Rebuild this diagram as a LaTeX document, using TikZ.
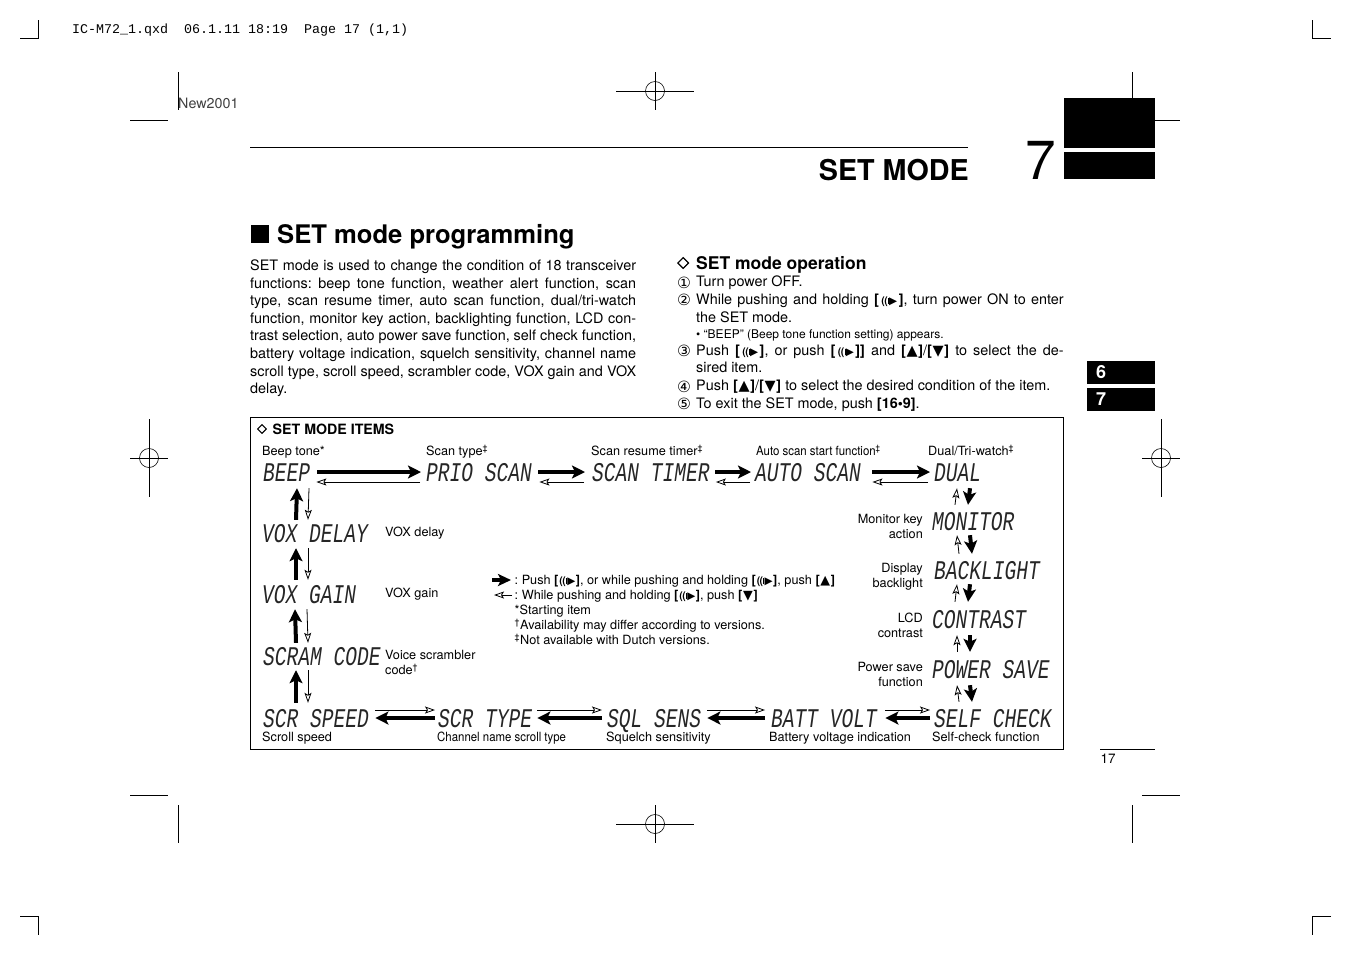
\documentclass[tikz,border=0pt]{standalone}
\usepackage{fontspec}
\usetikzlibrary{arrows.meta}
\setmainfont{TeX Gyre Heros}
\newfontfamily\lcdf[UprightFont=* Italic,FakeStretch=0.725]{Liberation Mono}
\newfontfamily\monof{Liberation Mono}
\newfontfamily\djv{DejaVu Sans}
\newfontfamily\djb[FakeBold=1.5]{DejaVu Sans}
\newfontfamily\narf[FakeStretch=0.90]{TeX Gyre Heros}
\newcommand\icn{{\fontsize{10.5}{10.5}\selectfont\textbf{(}\kern-.6pt\textbf{(}\kern.2pt\raisebox{.2pt}{\rule{1pt}{6pt}}\kern.2pt{\djv ▶}}}
\newcommand\spk{\textbf{[}\kern2.5pt\icn\kern1.5pt\textbf{]}}
\newcommand\spkn{\textbf{[}\kern1pt\icn\kern.5pt\textbf{]}}
\newcommand\ups{\textbf{[}\kern.7pt{\djv ▲}\kern.7pt\textbf{]}}
\newcommand\dns{\textbf{[}\kern.7pt{\djv ▼}\kern.7pt\textbf{]}}
\newcommand\jl[2]{\makebox[#1pt][s]{#2}}
\newcommand\cn[1]{{\djv\fontsize{15.5}{15.5}\selectfont #1}}
\newcommand\supm[1]{\smash{\textsuperscript{#1}}}
\tikzset{
  x=1pt,y=-1pt,
  crop/.style={line width=.6pt,black},
  lcd/.style={anchor=west,inner sep=0pt,text height=18pt,text depth=0pt,font=\lcdf\fontsize{27}{27}\selectfont,text=black!85},
  lab/.style={anchor=west,inner sep=0pt,text height=11pt,text depth=2pt,font=\fontsize{12.7}{15}\selectfont},
  labm/.style={anchor=west,inner sep=0pt,font=\fontsize{12.7}{15}\selectfont,align=left},
  labr/.style={anchor=east,inner sep=0pt,font=\fontsize{12.7}{15}\selectfont,align=right},
  body/.style={anchor=north west,inner sep=0pt,font=\fontsize{14.4}{17.6}\selectfont,align=left},
  stepline/.style={anchor=west,inner sep=0pt,text height=10.5pt,text depth=3pt,font=\fontsize{14.4}{17.6}\selectfont},
  fat/.style={-{Stealth[length=13pt,width=13pt,inset=3pt]},line width=4pt,black},
  thin/.style={-{Stealth[open,length=10pt,width=7pt,inset=2pt,fill=white]},line width=.8pt,black},
}
\begin{document}
\frenchspacing
\begin{tikzpicture}
\useasboundingbox (0,0) rectangle (1351,954);
% crop marks
\draw[crop] (38,20)--(38,38)--(20,38);
\draw[crop] (1312,20)--(1312,38)--(1331,38);
\draw[crop] (20,916)--(38,916)--(38,935);
\draw[crop] (1331,916)--(1312,916)--(1312,935);
\draw[crop] (178,72)--(178,110) (130,120)--(168,120);
\draw[crop] (1132,72)--(1132,98) (1155,120)--(1180,120);
\draw[crop] (130,795)--(168,795) (178,805)--(178,843);
\draw[crop] (1142,795)--(1180,795) (1132,805)--(1132,843);
\foreach \cx/\cy in {655/91,655/824}{
  \draw[crop] (\cx-39,\cy)--(\cx+39,\cy) (\cx,\cy-19)--(\cx,\cy+19);
  \draw[crop] (\cx,\cy) circle[radius=9.5pt];
}
\foreach \cx/\cy in {149/458,1161/458}{
  \draw[crop] (\cx-19,\cy)--(\cx+19,\cy) (\cx,\cy-39)--(\cx,\cy+39);
  \draw[crop] (\cx,\cy) circle[radius=9.5pt];
}
% header
\node[anchor=west,inner sep=0pt,font=\monof\fontsize{11}{11}\selectfont,scale=1.212] (slug) at (72,30) {IC-M72\_1.qxd\ \ 06.1.11 18:19\ \ Page 17 (1,1)};
\node[anchor=west,inner sep=0pt,font=\fontsize{14.3}{14}\selectfont,text=black!75] (new) at (178,103) {New2001};
\draw[line width=.8pt] (250,147.7)--(968,147.7);
\node[anchor=east,inner sep=0pt,font=\bfseries\fontsize{28.7}{30}\selectfont] (title) at (969,170) {SET MODE};
\node[anchor=center,inner sep=0pt,font=\fontsize{55}{55}\selectfont] (chap) at (1041,160) {7};
\fill (1064,98) rectangle (1155,148);
\fill (1064,152) rectangle (1155,179);
\fill (1087,361) rectangle (1155,384);
\fill (1087,388) rectangle (1155,411);
\node[inner sep=0pt,text=white,font=\bfseries\fontsize{18}{18}\selectfont] (t6) at (1101,372.5) {6};
\node[inner sep=0pt,text=white,font=\bfseries\fontsize{18}{18}\selectfont] (t7) at (1101,399.5) {7};
\draw[line width=.6pt] (1100,749)--(1155,749);
\node[inner sep=0pt,font=\fontsize{13.5}{14}\selectfont] (pg) at (1108,759) {17};
% headings
\fill (251,225) rectangle (269,243);
\node[anchor=west,inner sep=0pt,font=\bfseries\fontsize{25.6}{26}\selectfont] (h1) at (277,237) {SET mode programming};
\node[body] (para) at (250,259.5) {%
\jl{386}{SET mode is used to change the condition of 18 transceiver}\\
\jl{386}{functions: beep tone function, weather alert function, scan}\\
\jl{386}{type, scan resume timer, auto scan function, dual/tri-watch}\\
\jl{386}{function, monitor key action, backlighting function, LCD con-}\\
\jl{386}{trast selection, auto power save function, self check function,}\\
\jl{386}{battery voltage indication, squelch sensitivity, channel name}\\
\jl{386}{scroll type, scroll speed, scrambler code, VOX gain and VOX}\\
delay.};
\node[anchor=west,inner sep=0pt,font=\djb\fontsize{15.5}{16}\selectfont] (dia1) at (677,263) {◇};
\node[anchor=west,inner sep=0pt,font=\bfseries\fontsize{17.5}{18}\selectfont] (h2) at (696,265) {SET mode operation};
\foreach \t/\yy/\c in {①/282.5/a,②/300/b,③/351/c,④/386.5/d,⑤/404/e}{
  \node[anchor=west,inner sep=0pt] (n\c) at (677,\yy) {\cn{\t}};
}
\node[stepline] (s1) at (696,283) {Turn power OFF.};
\node[body] (s2) at (696,293.5) {\jl{367.5}{While pushing and holding \spk, turn power ON to enter}\\the SET mode.};
\node[anchor=west,inner sep=0pt,font=\fontsize{12}{14}\selectfont] (s2b) at (696,335) {• “BEEP” (Beep tone function setting) appears.};
\node[body] (s3) at (696,344.5) {\jl{367.5}{Push \spk, or push \spk\textbf{]} and \ups/\dns{} to select the de-}\\sired item.};
\node[stepline] (s4) at (696,387) {Push \ups/\dns{} to select the desired condition of the item.};
\node[stepline] (s5) at (696,404.5) {To exit the SET mode, push \textbf{[16•9]}.};
% items box
\draw[line width=.8pt] (250.5,417) rectangle (1063.7,749.5);
\node[anchor=west,inner sep=0pt,font=\djb\fontsize{12.5}{13}\selectfont] (dia2) at (257,429) {◇};
\node[anchor=west,inner sep=0pt,font=\bfseries\fontsize{14.2}{14}\selectfont] (h3) at (272.5,429.5) {SET MODE ITEMS};
% LCD items
\node[lcd] (beep) at (263,472) {BEEP};
\node[lcd] (prio) at (426,472) {PRIO SCAN};
\node[lcd] (timer) at (592,472) {SCAN TIMER};
\node[lcd] (auto) at (755,472) {AUTO SCAN};
\node[lcd] (dual) at (934,472) {DUAL};
\node[lcd] (mon) at (932,521) {MONITOR};
\node[lcd] (back) at (934,570) {BACKLIGHT};
\node[lcd] (contr) at (932,619) {CONTRAST};
\node[lcd] (psave) at (932,669) {POWER SAVE};
\node[lcd] (self) at (934,718) {SELF CHECK};
\node[lcd] (batt) at (771,718) {BATT VOLT};
\node[lcd] (sql) at (607,718) {SQL SENS};
\node[lcd] (stype) at (438,718) {SCR TYPE};
\node[lcd] (speed) at (263,718) {SCR SPEED};
\node[lcd] (scram) at (263,656) {SCRAM CODE};
\node[lcd] (vgain) at (262,594) {VOX GAIN};
\node[lcd] (vdelay) at (262,533) {VOX DELAY};
% labels
\node[lab] (l1) at (262,451) {Beep tone*};
\node[lab] (l2) at (426,451) {Scan type\supm{‡}};
\node[lab] (l3) at (591,451) {Scan resume timer\supm{‡}};
\node[lab,font=\narf\fontsize{12.7}{15}\selectfont] (l4) at (756,451) {Auto scan start function\supm{‡}};
\node[lab] (l5) at (928,451) {Dual/Tri-watch\supm{‡}};
\node[labr] (l6) at (923,526.5) {Monitor key\\action};
\node[labr] (l7) at (923,576.5) {Display\\backlight};
\node[labr] (l8) at (923,625.5) {LCD\\contrast};
\node[labr] (l9) at (923,674.5) {Power save\\function};
\node[lab] (l10) at (385,532) {VOX delay};
\node[lab] (l11) at (385,593) {VOX gain};
\node[labm] (l12) at (385,662.5) {Voice scrambler\\code\supm{†}};
\node[lab] (l13) at (262,737) {Scroll speed};
\node[lab,font=\narf\fontsize{12.7}{15}\selectfont] (l14) at (437,737) {Channel name scroll type};
\node[lab] (l15) at (606,737) {Squelch sensitivity};
\node[lab] (l16) at (769,737) {Battery voltage indication};
\node[lab] (l17) at (932,737) {Self-check function};
% top row
\foreach \a/\b/\sa/\sb/\ta/\tb in {beep/prio/7/-5/6/-6,prio/timer/6.3/-7/7.3/-8,timer/auto/5.5/-4/6/-5,auto/dual/11.3/-4/11.3/-6}{
  \draw[fat] ([xshift=\sa]\a.east) -- ([xshift=\sb]\b.west);
  \draw[thin] ([shift={(\tb,10)}]\b.west) -- ([shift={(\ta,10)}]\a.east);
}
% bottom row
\foreach \a/\b/\sa/\sb in {self/batt/-4/8.3,batt/sql/-6/6,sql/stype/-5/5,stype/speed/-3/6.3}{
  \draw[fat] ([xshift=\sa]\a.west) -- ([xshift=\sb]\b.east);
  \draw[thin] ([shift={(\sb,-8)}]\b.east) -- ([shift={(\sa,-8)}]\a.west);
}
% left column
\foreach \a/\b/\xa/\xb/\sa/\sb in {vdelay/beep/34/46/-4/7,vgain/vdelay/34/46/-5/6,scram/vgain/33/45/-4/6,speed/scram/33/45/-6/5}{
  \draw[fat] ([shift={(\xa,\sa)}]\a.north west) -- ([shift={(\xa,\sb)}]\b.south west);
  \draw[thin] ([shift={(\xb,\sb)}]\b.south west) -- ([shift={(\xb,\sa)}]\a.north west);
}
% right column
\foreach \a/\b/\xf/\xt/\sa/\sb in {dual/mon/36/23/7/-7,mon/back/38/25/5/-7,back/contr/36/23/5/-8,contr/psave/38/25/7/-8,psave/self/38/25/7/-7}{
  \draw[fat] ([shift={(\xf,\sa)}]\a.south west) -- ([shift={(\xf,\sb)}]\b.north west);
  \draw[thin] ([shift={(\xt,\sb)}]\b.north west) -- ([shift={(\xt,\sa)}]\a.south west);
}
% legend
\coordinate (fa) at (492,580); \coordinate (fb) at (511,580);
\coordinate (ta) at (512,595); \coordinate (tb) at (494,595);
\draw[-{Stealth[length=13pt,width=12pt,inset=3pt]},line width=3.5pt] (fa)--(fb);
\draw[thin] (ta)--(tb);
\node[lab] (lg1) at (514.5,580) {: Push \spkn, or while pushing and holding \spkn, push \ups};
\node[lab] (lg2) at (514.5,595) {: While pushing and holding \spkn, push \dns};
\node[lab] (lg3) at (514.5,610) {*Starting item};
\node[lab] (lg4) at (514.5,625) {\supm{†}Availability may differ according to versions.};
\node[lab] (lg5) at (514.5,640) {\supm{‡}Not available with Dutch versions.};
\end{tikzpicture}
\end{document}
